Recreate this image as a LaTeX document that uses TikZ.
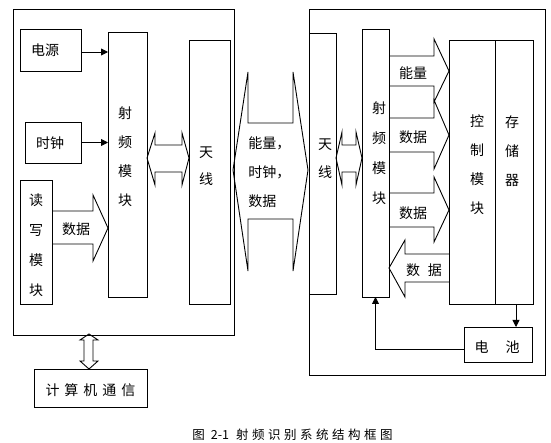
\documentclass[tikz,border=0pt]{standalone}
\usepackage{fontspec}
\newfontfamily\cjk{Noto Sans CJK SC}
\usetikzlibrary{arrows.meta}
\newcommand{\gp}[1]{\hspace{#1pt}}
\begin{document}
\begin{tikzpicture}[x=1pt,y=-1pt,line width=0.9pt,
  box/.style={draw,inner sep=0pt,outer sep=0pt},
  lbl/.style={font=\cjk\fontsize{14}{29}\selectfont,inner sep=0pt,align=center},
  blk/.style={draw,line join=miter},
  tip/.style={-{Triangle[length=7pt,width=7pt]}}]
\useasboundingbox (0,0) rectangle (551,443);
% outer boxes
\node[box,minimum width=221pt,minimum height=326pt] (outerL) at (123.5,172) {};
\node[box,minimum width=236pt,minimum height=366pt] (outerR) at (427,192) {};
% reader side
\node[box,minimum width=61pt,minimum height=42pt] (dy) at (50.5,50) {};
\node[box,minimum width=56pt,minimum height=41pt] (sz) at (53,142.5) {};
\node[box,minimum width=32pt,minimum height=124pt] (rw) at (36,242) {};
\node[box,minimum width=39pt,minimum height=265pt] (rfL) at (127.5,164.5) {};
\node[box,minimum width=41pt,minimum height=264pt] (txL) at (209.5,172) {};
\node[box,minimum width=113pt,minimum height=38pt] (pc) at (90.5,388) {};
% tag side
\node[box,minimum width=27pt,minimum height=261pt] (txR) at (322.5,163.5) {};
\node[box,minimum width=27pt,minimum height=268pt] (rfR) at (375.5,163) {};
\node[box,minimum width=46pt,minimum height=264pt] (ctl) at (472,172) {};
\node[box,minimum width=38pt,minimum height=264pt] (mem) at (514,172) {};
\node[box,minimum width=68pt,minimum height=35pt] (bat) at (498,344.5) {};
% labels
\node[lbl] (tdy) at (45,50) {电源};
\node[lbl] (tsz) at (50,143) {时钟};
\node[lbl,font=\cjk\fontsize{14}{30}\selectfont] (trw) at (36,245) {读\\写\\模\\块};
\node[lbl] (trfL) at (125,156.5) {射\\频\\模\\块};
\node[lbl,font=\cjk\fontsize{14}{27}\selectfont] (ttxL) at (206,166.5) {天\\线};
\node[lbl,align=left,anchor=west] (tmid) at (248,172) {能量，\\时钟，\\数据};
\node[lbl,font=\cjk\fontsize{14}{28}\selectfont] (ttxR) at (325,159) {天\\线};
\node[lbl,font=\cjk\fontsize{14}{30}\selectfont] (trfR) at (379,153) {射\\频\\模\\块};
\node[lbl] (tctl) at (477,165) {控\\制\\模\\块};
\node[lbl] (tmem) at (512,151) {存\\储\\器};
\node[lbl] (tbat) at (497,347) {电\gp{17}池};
\node[lbl] (tpc) at (90.5,390) {计\gp{5}算\gp{5}机\gp{5}通\gp{5}信};
% block arrows
\draw[blk] (52,211) -- (93,211) -- (93,195) -- (108,228) -- (93,261) -- (93,244) -- (52,244);
\node[lbl] (ldata) at (76,229) {数据};
\draw[blk] (147,158) -- (155,133) -- (155,145) -- (182,145) -- (182,133) -- (189,158) -- (182,185) -- (182,172) -- (155,172) -- (155,185) -- cycle;
\draw[blk] (233,170) -- (248,72) -- (248,123) -- (293,123) -- (293,72) -- (308,170) -- (293,271) -- (293,219) -- (248,219) -- (248,271) -- cycle;
\draw[blk] (336,158) -- (342,132) -- (342,145) -- (356,145) -- (356,132) -- (362,158) -- (356,185) -- (356,172) -- (342,172) -- (342,185) -- cycle;
\draw[blk] (389,56) -- (434,56) -- (434,39) -- (449,71) -- (434,102) -- (434,86) -- (389,86);
\draw[blk] (389,118) -- (434,118) -- (434,100) -- (449,135) -- (434,169) -- (434,152) -- (389,152);
\draw[blk] (389,193) -- (434,193) -- (434,177) -- (449,210) -- (434,242) -- (434,227) -- (389,227);
\draw[blk] (449,254) -- (405,254) -- (405,240) -- (389,268) -- (405,297) -- (405,282) -- (449,282);
\node[lbl] (lnl) at (413,73) {能量};
\node[lbl] (ld1) at (413,137) {数据};
\node[lbl] (ld2) at (413,213) {数据};
\node[lbl] (ld3) at (424,270) {数\gp{8}据};
\draw[blk] (89,334) -- (98,340) -- (93,340) -- (93,361) -- (98,361) -- (89,369) -- (80,361) -- (84,361) -- (84,340) -- (80,340) -- cycle;
% connectors
\draw[tip] (dy.east |- 0,52) -- (rfL.west |- 0,52);
\draw[tip] (sz.east) -- (sz.east -| rfL.west);
\coordinate (memout) at (516,304);
\draw[tip] (memout) -- (memout |- bat.north);
\draw[tip] ([yshift=-4.5pt]bat.west) -| (rfR.south);
% caption
\node[font=\cjk\fontsize{12.5}{12.5}\selectfont,inner sep=0pt,anchor=west] (cap) at (192,435)
 {图\gp{6}2-1\gp{7}射\gp{3.5}频\gp{3.5}识\gp{3.5}别\gp{3.5}系\gp{3.5}统\gp{3.5}结\gp{3.5}构\gp{3.5}框\gp{3.5}图};
\end{tikzpicture}
\end{document}
